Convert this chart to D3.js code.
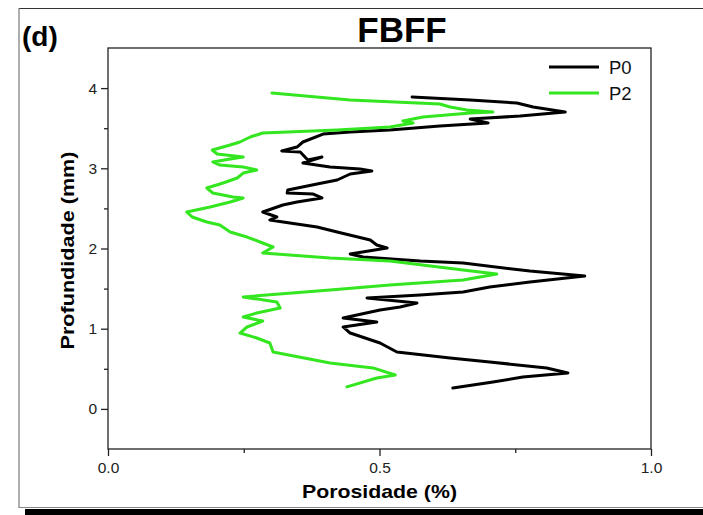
<!DOCTYPE html>
<html>
<head>
<meta charset="utf-8">
<script src="https://cdn.jsdelivr.net/npm/d3@7"></script>
<style>
html,body{margin:0;padding:0;background:#fff;}
svg{display:block;font-family:"Liberation Sans",Arial,sans-serif;}
</style>
</head>
<body>
<svg id="chart" width="703" height="515"></svg>
<script>
// ---- data ----
const seriesNames = ["P0", "P2"];
const seriesColors = ["#000000", "#33e61f"];
const xTickValues = [0, 0.5, 1.0];
const xTickLabels = ["0.0", "0.5", "1.0"];
const yTickValues = [0, 1, 2, 3, 4];
const yTickLabels = ["0", "1", "2", "3", "4"];

// P0: porosity (x) vs depth (y), top to bottom
const p0Porosity = [0.560,0.667,0.753,0.783,0.842,0.759,0.698,0.667,0.700,0.611,0.519,0.446,0.396,0.359,0.348,0.320,0.354,0.368,0.394,0.359,0.409,0.464,0.486,0.446,0.422,0.385,0.331,0.330,0.378,0.394,0.348,0.322,0.285,0.311,0.298,0.335,0.385,0.422,0.483,0.495,0.514,0.446,0.470,0.575,0.654,0.777,0.878,0.777,0.703,0.654,0.575,0.477,0.569,0.538,0.501,0.433,0.495,0.433,0.446,0.501,0.532,0.630,0.703,0.808,0.847,0.764,0.709,0.635];
const p0Depth = [3.889,3.852,3.814,3.764,3.702,3.652,3.627,3.615,3.565,3.527,3.477,3.452,3.427,3.328,3.265,3.216,3.203,3.103,3.141,3.066,3.016,2.991,2.966,2.929,2.854,2.804,2.729,2.692,2.679,2.630,2.580,2.542,2.455,2.393,2.355,2.318,2.268,2.206,2.106,2.044,2.006,1.931,1.894,1.844,1.819,1.719,1.657,1.582,1.520,1.458,1.420,1.383,1.320,1.271,1.233,1.133,1.084,1.022,0.946,0.822,0.709,0.635,0.585,0.510,0.448,0.398,0.335,0.261];

// P2
const p2Porosity = [0.302,0.446,0.611,0.630,0.661,0.709,0.667,0.580,0.543,0.562,0.519,0.422,0.285,0.262,0.243,0.225,0.192,0.201,0.249,0.225,0.193,0.206,0.249,0.274,0.249,0.238,0.212,0.182,0.193,0.230,0.249,0.225,0.188,0.145,0.155,0.182,0.206,0.225,0.256,0.280,0.304,0.285,0.409,0.519,0.654,0.716,0.654,0.519,0.409,0.249,0.311,0.317,0.274,0.249,0.285,0.256,0.243,0.274,0.298,0.304,0.409,0.488,0.529,0.495,0.440];
const p2Depth = [3.939,3.851,3.801,3.764,3.727,3.702,3.689,3.639,3.590,3.565,3.515,3.477,3.440,3.390,3.328,3.290,3.228,3.178,3.141,3.116,3.079,3.041,3.016,2.979,2.941,2.879,2.817,2.754,2.692,2.642,2.630,2.580,2.517,2.455,2.393,2.330,2.293,2.206,2.143,2.081,2.019,1.944,1.881,1.844,1.732,1.682,1.607,1.545,1.483,1.396,1.333,1.258,1.196,1.146,1.096,1.021,0.946,0.884,0.822,0.709,0.573,0.511,0.423,0.386,0.274];

const series = [
  {name: seriesNames[0], color: seriesColors[0], pts: p0Porosity.map((v,i)=>({x:v, y:p0Depth[i]}))},
  {name: seriesNames[1], color: seriesColors[1], pts: p2Porosity.map((v,i)=>({x:v, y:p2Depth[i]}))}
];

// ---- layout ----
const svg = d3.select("#chart");
const L = 108, R = 651, T = 48, B = 449;
const x = d3.scaleLinear().domain([0, 1.0]).range([L, R]);
const y = d3.scaleLinear().domain([-0.5, 4.5]).range([B, T]);

// outer frame
svg.append("line").attr("x1",19).attr("x2",703).attr("y1",8.5).attr("y2",8.5).attr("stroke","#333").attr("stroke-width",1.2);
svg.append("line").attr("x1",19).attr("x2",19).attr("y1",8).attr("y2",508).attr("stroke","#777").attr("stroke-width",1.2);
svg.append("line").attr("x1",19).attr("x2",703).attr("y1",507.5).attr("y2",507.5).attr("stroke","#888").attr("stroke-width",1);
svg.append("rect").attr("x",25).attr("y",509).attr("width",678).attr("height",6).attr("fill","#000");

// plot box
svg.append("rect").attr("x",L).attr("y",T).attr("width",R-L).attr("height",B-T)
  .attr("fill","none").attr("stroke","#222").attr("stroke-width",1.3);

// axes
const xAxis = d3.axisBottom(x).tickValues(xTickValues).tickFormat((d,i)=>xTickLabels[i]).tickSize(7).tickSizeOuter(0);
const gx = svg.append("g").attr("transform",`translate(0,${B})`).call(xAxis);
gx.select(".domain").remove();
gx.selectAll(".tick line").attr("stroke","#222").attr("stroke-width",1.3);
gx.selectAll(".tick text").attr("font-size",15.5).attr("fill","#222").attr("y",10).attr("dy","0.9em")
  .attr("font-family","'Liberation Sans',Arial,sans-serif");
const xMinor = d3.axisBottom(x).tickValues([0.25,0.75]).tickFormat("").tickSize(4).tickSizeOuter(0);
const gxm = svg.append("g").attr("transform",`translate(0,${B})`).call(xMinor);
gxm.select(".domain").remove();
gxm.selectAll(".tick line").attr("stroke","#222").attr("stroke-width",1.3);

const yAxis = d3.axisLeft(y).tickValues(yTickValues).tickFormat((d,i)=>yTickLabels[i]).tickSize(7).tickSizeOuter(0);
const gy = svg.append("g").attr("transform",`translate(${L},0)`).call(yAxis);
gy.select(".domain").remove();
gy.selectAll(".tick line").attr("stroke","#222").attr("stroke-width",1.3);
gy.selectAll(".tick text").attr("font-size",15.5).attr("fill","#222").attr("x",-11)
  .attr("font-family","'Liberation Sans',Arial,sans-serif");
const yMinor = d3.axisLeft(y).tickValues([0.5,1.5,2.5,3.5]).tickFormat("").tickSize(4).tickSizeOuter(0);
const gym = svg.append("g").attr("transform",`translate(${L},0)`).call(yMinor);
gym.select(".domain").remove();
gym.selectAll(".tick line").attr("stroke","#222").attr("stroke-width",1.3);

// lines
svg.append("clipPath").attr("id","clip").append("rect")
  .attr("x",L).attr("y",T).attr("width",R-L).attr("height",B-T);
const line = d3.line().x(d=>x(d.x)).y(d=>y(d.y)).curve(d3.curveLinear);
series.forEach(s=>{
  svg.append("path").datum(s.pts).attr("d",line).attr("fill","none")
    .attr("stroke",s.color).attr("stroke-width",3).attr("stroke-linejoin","round")
    .attr("stroke-linecap","round").attr("clip-path","url(#clip)");
});

// legend
series.forEach((s,i)=>{
  const ly = 67 + i*26;
  svg.append("line").attr("x1",549).attr("x2",599).attr("y1",ly).attr("y2",ly)
    .attr("stroke",s.color).attr("stroke-width",3);
  svg.append("text").attr("x",609).attr("y",ly+7).attr("font-size",18.5).attr("fill","#111").text(s.name);
});

// titles
svg.append("text").attr("x",402).attr("y",42).attr("text-anchor","middle")
  .attr("font-size",35).attr("font-weight","bold").attr("fill","#000").text("FBFF");
svg.append("text").attr("x",22).attr("y",46).attr("font-size",28).attr("font-weight","bold").attr("fill","#000").text("(d)");
svg.append("text").attr("x",(L+R)/2).attr("y",498).attr("text-anchor","middle")
  .attr("font-size",19).attr("font-weight","bold").attr("fill","#000")
  .attr("textLength",155).attr("lengthAdjust","spacingAndGlyphs").text("Porosidade (%)");
svg.append("text").attr("transform",`translate(74,${(T+B)/2+2}) rotate(-90)`).attr("text-anchor","middle")
  .attr("font-size",19).attr("font-weight","bold").attr("fill","#000")
  .attr("textLength",198).attr("lengthAdjust","spacingAndGlyphs").text("Profundidade (mm)");
</script>
</body>
</html>
